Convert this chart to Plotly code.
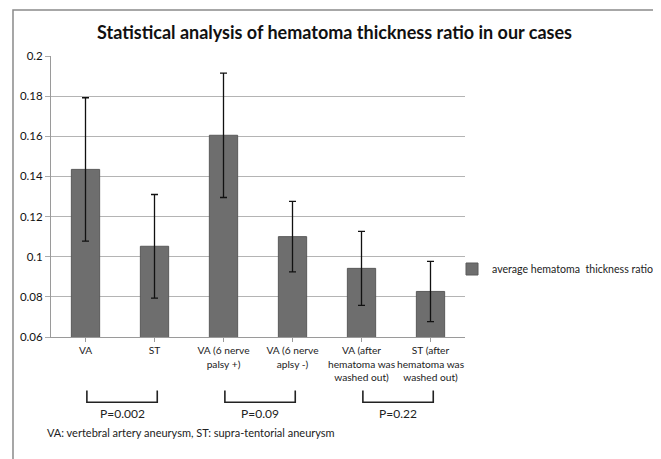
import plotly.graph_objects as go

categories = ["VA", "ST", "VA (6 nerve<br>palsy +)", "VA (6 nerve<br>aplsy -)",
              "VA (after<br>hematoma was<br>washed out)", "ST (after<br>hematoma was<br>washed out)"]
means = [0.1435, 0.1052, 0.1605, 0.1100, 0.0942, 0.0827]
errors = [0.0357, 0.0258, 0.0310, 0.0176, 0.0184, 0.0150]
p_labels = ["P=0.002", "P=0.09", "P=0.22"]
p_pairs = [(0, 1), (2, 3), (4, 5)]
series_name = "average hematoma  thickness ratio"

FONT = "Lato"
W, H = 653, 451  # page body adds an 8px offset
fig = go.Figure()
fig.add_trace(go.Bar(
    x=list(range(len(categories))), y=means, name=series_name,
    marker=dict(color="#6e6e6e", line=dict(color="#5a5a5a", width=1)),
    error_y=dict(type="data", array=errors, visible=True, color="#111111", thickness=1.3, width=3.5),
    width=0.41, showlegend=True,
))

shapes = []
annotations = []
for (a, b), lab in zip(p_pairs, p_labels):
    x0, x1 = a + 0.02, b + 0.04
    shapes.append(dict(type="path", xref="x", yref="paper",
                       path=f"M {x0},-0.19 L {x0},-0.232 L {x1},-0.232 L {x1},-0.19",
                       line=dict(color="#222222", width=1.6)))
    annotations.append(dict(x=(x0 + x1) / 2, y=-0.273, xref="x", yref="paper", text=lab,
                            showarrow=False, font=dict(family=FONT, size=12, color="#222222"),
                            xanchor="center", yanchor="middle"))

annotations.append(dict(x=-0.0145, y=-0.339, xref="paper", yref="paper",
                        text="VA: vertebral artery aneurysm, ST: supra-tentorial aneurysm",
                        showarrow=False, font=dict(family=FONT, size=11, color="#222222"),
                        xanchor="left", yanchor="middle"))

shapes.append(dict(type="rect", xref="paper", yref="paper", x0=-0.0918, x1=1.466, y0=-0.5, y1=1.164,
                   line=dict(color="#8a8a8a", width=1.5), layer="below"))

fig.update_layout(
    width=W, height=H,
    margin=dict(l=43, r=196, t=48, b=122, autoexpand=False),
    paper_bgcolor="white", plot_bgcolor="white",
    title=dict(text="<b>Statistical analysis of hematoma thickness ratio in our cases</b>",
               x=0.5, xanchor="center", y=1 - 25 / H, yanchor="middle",
               font=dict(family=FONT, size=18, color="#111111")),
    font=dict(family=FONT, size=11.5, color="#222222"),
    xaxis=dict(tickmode="array", tickvals=list(range(len(categories))), ticktext=categories,
               range=[-0.5, 5.5], showline=True, linecolor="#9a9a9a", linewidth=1,
               ticks="outside", ticklen=4, tickcolor="#9a9a9a", showgrid=False,
               tickangle=0, automargin=False,
               tickfont=dict(family=FONT, size=10.2, color="#222222")),
    yaxis=dict(range=[0.06, 0.2], dtick=0.02, tick0=0.06, showline=True, linecolor="#9a9a9a",
               linewidth=1, ticks="outside", ticklen=5, tickcolor="#aaaaaa",
               gridcolor="#b4b4b4", gridwidth=1, zeroline=False, automargin=False,
               tickfont=dict(family=FONT, size=11.5, color="#111111")),
    legend=dict(xref="container", yref="container", x=444 / W, y=1 - 261 / H,
                xanchor="left", yanchor="middle",
                font=dict(family=FONT, size=10.6, color="#222222"), itemwidth=30,
                bgcolor="rgba(0,0,0,0)"),
    shapes=shapes, annotations=annotations,
)
fig.write_html("out.html")
